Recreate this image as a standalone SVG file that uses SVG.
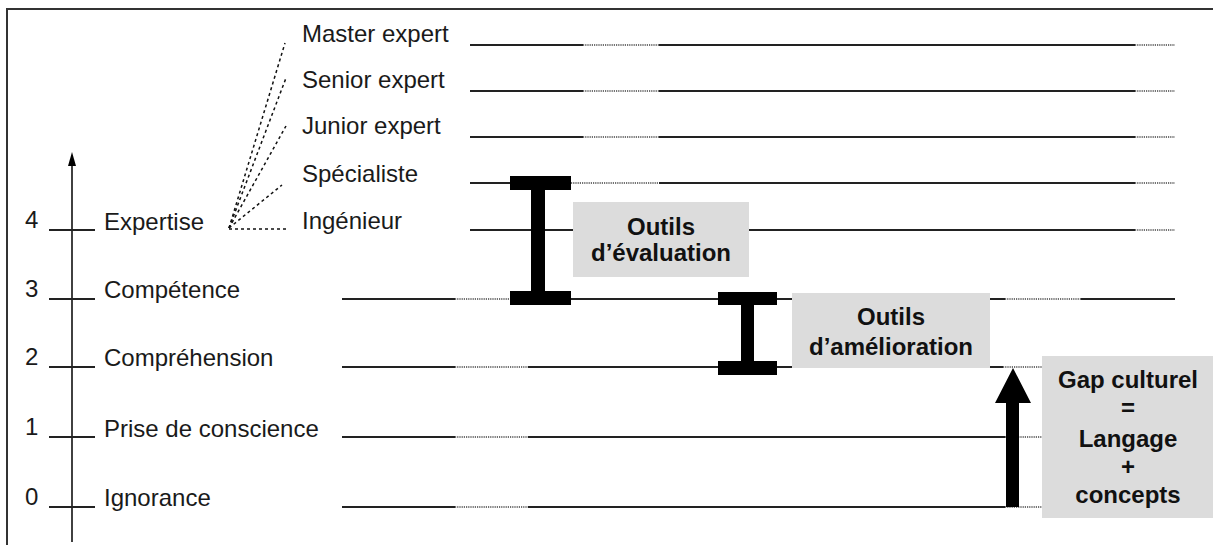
<svg xmlns="http://www.w3.org/2000/svg" width="1213" height="545" viewBox="0 0 1213 545">
<style>
.t{font-family:"Liberation Sans",Arial,sans-serif;font-size:24px;fill:#1a1a1a}
.b{font-family:"Liberation Sans",Arial,sans-serif;font-size:24px;font-weight:bold;fill:#111;text-anchor:middle}
.s{stroke:#222;stroke-width:2;fill:none}
.d{stroke:#444;stroke-width:1.6;stroke-dasharray:1.2 1;fill:none}
.f{stroke:#111;stroke-width:1.5;stroke-dasharray:3 3;fill:none}
.box{fill:#dcdcdc}
.beam{fill:#000}
</style>
<rect width="1213" height="545" fill="#fff"/>
<path d="M7,545 V9 H1213" stroke="#333" stroke-width="2" fill="none"/>

<g id="axis">
<line x1="72" y1="542" x2="72" y2="165" stroke="#111" stroke-width="1.6"/>
<path d="M68,166 L72,152 L76,166 Z" fill="#000"/>
</g>

<g id="level4">
<line class="s" x1="49" y1="230" x2="95" y2="230"/>
<text class="t" x="25" y="228">4</text>
<text class="t" x="104" y="230">Expertise</text>
</g>
<g id="level3">
<line class="s" x1="49" y1="299" x2="95" y2="299"/>
<text class="t" x="25" y="297">3</text>
<text class="t" x="104" y="298">Compétence</text>
</g>
<g id="level2">
<line class="s" x1="49" y1="367" x2="95" y2="367"/>
<text class="t" x="25" y="365">2</text>
<text class="t" x="104" y="366">Compréhension</text>
</g>
<g id="level1">
<line class="s" x1="49" y1="437" x2="95" y2="437"/>
<text class="t" x="25" y="435">1</text>
<text class="t" x="104" y="437">Prise de conscience</text>
</g>
<g id="level0">
<line class="s" x1="49" y1="507" x2="95" y2="507"/>
<text class="t" x="25" y="505">0</text>
<text class="t" x="104" y="506">Ignorance</text>
</g>

<g id="sublevels">
<text class="t" x="302" y="42">Master expert</text>
<text class="t" x="302" y="88">Senior expert</text>
<text class="t" x="302" y="134">Junior expert</text>
<text class="t" x="302" y="182">Spécialiste</text>
<text class="t" x="302" y="229">Ingénieur</text>
</g>

<g id="connectors">
<path class="f" d="M229,229 H287"/>
<path class="f" d="M229,228 L285,43"/>
<path class="f" d="M229,228 L286,78"/>
<path class="f" d="M229,228 L286,126"/>
<path class="f" d="M229,228 L282,185"/>
<path class="s" d="M470,45 H583 M659,45 H1135"/>
<path class="d" d="M583,45 H659 M1135,45 H1175"/>
<path class="s" d="M470,91 H583 M659,91 H1135"/>
<path class="d" d="M583,91 H659 M1135,91 H1175"/>
<path class="s" d="M470,137 H583 M659,137 H1135"/>
<path class="d" d="M583,137 H659 M1135,137 H1175"/>
<path class="s" d="M470,183 H510 M659,183 H1135"/>
<path class="d" d="M571,183 H659 M1135,183 H1175"/>
<path class="s" d="M470,230 H573 M749,230 H1135"/>
<path class="d" d="M1135,230 H1175"/>
<path class="s" d="M342,299 H455 M571,299 H718 M777,299 H792 M990,299 H1005 M1081,299 H1175"/>
<path class="d" d="M455,299 H510 M1005,299 H1081"/>
<path class="s" d="M342,367 H455 M528,367 H718 M777,367 H792 M990,367 H1003"/>
<path class="d" d="M455,367 H528 M1003,367 H1042"/>
<path class="s" d="M342,437 H455 M528,437 H1005"/>
<path class="d" d="M455,437 H528 M1005,437 H1042"/>
<path class="s" d="M342,507 H455 M528,507 H1005"/>
<path class="d" d="M455,507 H528 M1005,507 H1042"/>
<path d="M1006,507 V403 H995 L1013,368 L1031,403 H1019 V507 Z" fill="#000"/>
</g>

<g id="beam-evaluation">
<rect class="beam" x="510" y="176" width="61" height="14"/>
<rect class="beam" x="531" y="189" width="14" height="103"/>
<rect class="beam" x="510" y="291" width="61" height="14"/>
</g>
<g id="beam-amelioration">
<rect class="beam" x="718" y="292" width="59" height="13"/>
<rect class="beam" x="741" y="304" width="13" height="58"/>
<rect class="beam" x="718" y="361" width="59" height="14"/>
</g>

<g id="box-evaluation">
<rect class="box" x="573" y="202" width="176" height="75"/>
<text class="b" x="661" y="235">Outils</text>
<text class="b" x="661" y="261">d’évaluation</text>
</g>
<g id="box-amelioration">
<rect class="box" x="792" y="293" width="198" height="75"/>
<text class="b" x="891" y="325">Outils</text>
<text class="b" x="891" y="355">d’amélioration</text>
</g>
<g id="box-gap">
<rect class="box" x="1042" y="356" width="171" height="162"/>
<text class="b" x="1128" y="388">Gap culturel</text>
<text class="b" x="1128" y="416">=</text>
<text class="b" x="1128" y="447">Langage</text>
<text class="b" x="1128" y="475">+</text>
<text class="b" x="1128" y="503">concepts</text>
</g>
</svg>
